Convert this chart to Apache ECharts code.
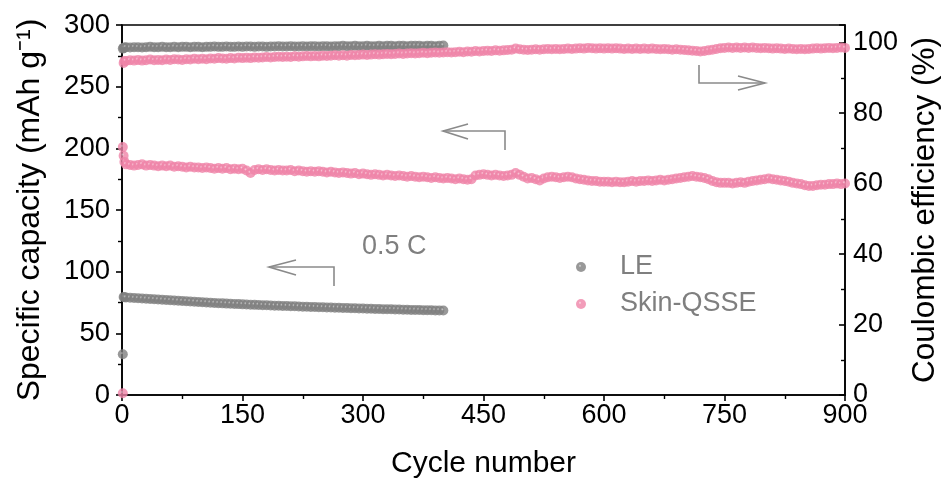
<!DOCTYPE html>
<html>
<head>
<meta charset="utf-8">
<script src="https://cdn.jsdelivr.net/npm/echarts@6/dist/echarts.min.js"></script>
<style>
html,body{margin:0;padding:0;background:#fff;}
#chart{width:944px;height:485px;}
</style>
</head>
<body>
<div id="chart"></div>
<script>
// ---------- DATA ----------
const xTicks = [0, 150, 300, 450, 600, 750, 900];
const leftTicks = [0, 50, 100, 150, 200, 250, 300];
const rightTicks = [0, 20, 40, 60, 80, 100];

// LE (liquid electrolyte): first cycles listed explicitly, then every 5th cycle
const leEarlyCycles = [1, 2, 3];
const leCapEarly = [33, 79.5, 79.2];
const leCeEarly = [98.3, 98.5, 98.6];
const leStart = 5, leStep = 5;
const leCap = [
  79.0, 78.8, 78.6, 78.4, 78.2, 78.0, 77.8, 77.6, 77.4, 77.2,
  77.0, 76.8, 76.6, 76.4, 76.2, 76.0, 75.8, 75.6, 75.4, 75.2,
  75.0, 74.8, 74.6, 74.4, 74.3, 74.1, 74.0, 73.8, 73.7, 73.5,
  73.4, 73.2, 73.1, 73.0, 72.8, 72.7, 72.6, 72.4, 72.3, 72.2,
  72.1, 72.0, 71.9, 71.8, 71.6, 71.5, 71.4, 71.3, 71.2, 71.1,
  71.0, 70.9, 70.8, 70.7, 70.6, 70.5, 70.4, 70.3, 70.2, 70.1,
  70.0, 69.9, 69.8, 69.7, 69.6, 69.5, 69.5, 69.4, 69.3, 69.2,
  69.1, 69.0, 69.0, 68.9, 68.8, 68.8, 68.7, 68.6, 68.6, 68.5
];
const leCe = [
  98.7, 98.6, 98.7, 98.7, 98.6, 98.7, 98.8, 98.7, 98.7, 98.8,
  98.7, 98.7, 98.8, 98.7, 98.8, 98.8, 98.7, 98.8, 98.8, 98.7,
  98.8, 98.8, 98.9, 98.8, 98.8, 98.9, 98.8, 98.8, 98.9, 98.8,
  98.9, 98.9, 98.8, 98.9, 98.9, 98.8, 98.9, 98.9, 99.0, 98.9,
  98.9, 99.0, 98.9, 98.9, 99.0, 98.9, 99.0, 99.0, 98.9, 99.0,
  99.0, 98.9, 99.0, 99.0, 99.1, 99.0, 99.0, 99.1, 99.0, 99.0,
  99.1, 99.0, 99.0, 99.1, 99.0, 99.1, 99.1, 99.0, 99.1, 99.1,
  99.0, 99.1, 99.1, 99.1, 99.0, 99.1, 99.1, 99.0, 99.1, 99.2
];

// Skin-QSSE: first cycles listed explicitly, then every 5th cycle
const skinEarlyCycles = [1, 2, 3];
const skinCapEarly = [201, 194, 189];
const skinCeEarly = [0.5, 94.2, 94.8];
const skinStart = 5, skinStep = 5;
const skinCap = [
  187, 186.5, 186, 186.5, 187, 186, 186.5, 186, 185.5, 186,
  185.5, 186, 185, 185.5, 185, 184.5, 185, 184.5, 184.5, 184,
  184.5, 184, 183.5, 184, 183.5, 184, 183, 183.5, 183, 183.5,
  182, 180, 182.5, 183, 182.5, 183, 182.5, 182, 182.5, 182,
  182, 182.5, 181.5, 182, 181.5, 181, 181.5, 181, 181.5, 181,
  180.5, 181, 180.5, 180, 180.5, 180, 179.5, 180, 179, 179.5,
  179, 178.5, 179, 178.5, 178, 178.5, 178, 177.5, 178, 177.5,
  177, 177.5, 177, 176.5, 177, 176.5, 176, 176.5, 176, 175.5,
  176, 175.5, 175, 175.5, 175, 174.5, 175, 178, 178.5, 179,
  178.5, 178, 178.5, 178, 177.5, 178, 178.5, 180, 178.5, 177,
  175.5, 176, 175, 174, 175.5, 176.5, 177, 176.5, 176, 176.5,
  177, 176.5, 175.5, 175, 174.5, 174, 173.5, 173.5, 173, 173,
  173, 172.5, 173, 172.5, 172.5, 173, 173.5, 173, 173.5, 173.5,
  174, 173.5, 174, 174.5, 174, 174.5, 175, 175.5, 176, 176.5,
  177, 177.5, 177, 176.5, 176, 175, 173.5, 172.5, 172, 172,
  172, 171.5, 172, 172.5, 172, 173, 173.5, 174, 174.5, 175,
  175.5, 175, 174.5, 174, 173.5, 173, 172, 171.5, 171, 170,
  169.5, 169.5, 170, 170.5, 170.5, 171, 171, 171.5, 171, 171.5
];
const skinCe = [
  94.8, 95.0, 94.9, 95.1, 94.9, 95.0, 95.2, 95.0, 95.1, 95.0,
  95.2, 95.1, 95.3, 95.2, 95.1, 95.3, 95.2, 95.4, 95.3, 95.4,
  95.3, 95.5, 95.4, 95.6, 95.5, 95.4, 95.6, 95.5, 95.7, 95.6,
  95.7, 95.6, 95.8, 95.7, 95.8, 95.9, 95.8, 95.9, 96.0, 95.9,
  96.0, 95.9, 96.1, 96.0, 96.1, 96.2, 96.1, 96.2, 96.1, 96.3,
  96.2, 96.3, 96.4, 96.3, 96.4, 96.3, 96.5, 96.4, 96.5, 96.6,
  96.5, 96.6, 96.7, 96.6, 96.7, 96.8, 96.7, 96.8, 96.9, 96.8,
  96.9, 97.0, 96.9, 97.0, 97.1, 97.0, 97.1, 97.2, 97.1, 97.2,
  97.3, 97.2, 97.3, 97.4, 97.3, 97.5, 97.4, 97.6, 97.5, 97.6,
  97.7, 97.6, 97.8, 97.7, 97.8, 97.9, 98.0, 98.3, 98.1, 98.0,
  97.9, 98.0, 98.1, 98.0, 98.1, 98.2, 98.1, 98.2, 98.1, 98.2,
  98.3, 98.2, 98.3, 98.4, 98.3, 98.5, 98.4, 98.3, 98.4, 98.3,
  98.4, 98.3, 98.4, 98.3, 98.2, 98.3, 98.2, 98.3, 98.2, 98.3,
  98.2, 98.3, 98.2, 98.1, 98.2, 98.1, 98.0, 98.1, 98.0, 97.9,
  97.8, 97.7, 97.6, 97.5, 97.6, 97.8, 98.0, 98.2, 98.4, 98.5,
  98.6, 98.5, 98.6, 98.5, 98.6, 98.5, 98.6, 98.5, 98.4, 98.5,
  98.4, 98.3, 98.4, 98.3, 98.2, 98.3, 98.2, 98.1, 98.2, 98.1,
  98.2, 98.3, 98.4, 98.3, 98.4, 98.5, 98.4, 98.5, 98.6, 98.5
];

// ---------- BUILD ----------
function pairs(earlyX, earlyY, start, step, vals) {
  const out = earlyX.map((c, i) => [c, earlyY[i]]);
  vals.forEach((v, i) => out.push([start + i * step, v]));
  return out;
}
const GREY = '#7f7f7f';
const PINK = '#ef84a8';
const FONT = 'Liberation Sans, Arial, sans-serif';
function sphere(c, hi) {
  return {
    type: 'radial', x: 0.4, y: 0.38, r: 0.7,
    colorStops: [
      { offset: 0, color: hi },
      { offset: 0.22, color: c },
      { offset: 1, color: c }
    ]
  };
}
function scatter(name, data, yIdx, color, hi, z) {
  return {
    name: name, type: 'scatter', yAxisIndex: yIdx, data: data,
    symbol: 'circle', symbolSize: 10, clip: false, z: z,
    itemStyle: { color: sphere(color, hi), borderWidth: 0 },
    emphasis: { disabled: true }, animation: false
  };
}

const chart = echarts.init(document.getElementById('chart'), null, { renderer: 'canvas' });
const axisLineStyle = { color: '#000', width: 1.6 };
const option = {
  animation: false,
  textStyle: { fontFamily: FONT },
  grid: { left: 122, right: 99, top: 25, bottom: 90, containLabel: false, outerBoundsMode: 'none',
    show: true, borderColor: '#000', borderWidth: 1.6, backgroundColor: 'transparent' },
  legend: {
    data: ['LE', 'Skin-QSSE'],
    orient: 'vertical', left: 571, top: 247,
    itemWidth: 10, itemHeight: 10, itemGap: 7,
    icon: 'circle',
    textStyle: { fontSize: 27, color: GREY, fontFamily: FONT, lineHeight: 30, padding: [0, 0, 0, 29] }
  },
  xAxis: {
    type: 'value', min: 0, max: 900, interval: 150,
    name: 'Cycle number', nameLocation: 'middle', nameGap: 54,
    nameTextStyle: { fontSize: 30, color: '#000', fontFamily: FONT },
    axisLine: { show: true, lineStyle: axisLineStyle },
    axisTick: { show: true, inside: false, length: 6, lineStyle: axisLineStyle },
    minorTick: { show: true, splitNumber: 2, length: 4, lineStyle: { color: '#000', width: 1.4 } },
    axisLabel: { fontSize: 27, color: '#000', margin: 7, fontFamily: FONT,
      formatter: v => xTicks.includes(v) ? String(v) : '' },
    splitLine: { show: false }
  },
  yAxis: [
    {
      type: 'value', min: 0, max: 300, interval: 50, position: 'left',
      name: 'Specific capacity (mAh g\u207B\u00B9)', nameLocation: 'middle', nameGap: 76, nameRotate: 90,
      nameTextStyle: { fontSize: 32, color: '#000', fontFamily: FONT },
      axisLine: { show: true, lineStyle: axisLineStyle },
      axisTick: { show: true, inside: false, length: 6, lineStyle: axisLineStyle },
      minorTick: { show: true, splitNumber: 2, length: 4, lineStyle: { color: '#000', width: 1.4 } },
      axisLabel: { fontSize: 27.5, color: '#000', margin: 12, fontFamily: FONT,
        formatter: v => leftTicks.includes(v) ? String(v) : '' },
      splitLine: { show: false }
    },
    {
      type: 'value', min: 0, max: 105, interval: 20, position: 'right',
      name: 'Coulombic efficiency (%)', nameLocation: 'middle', nameGap: 62, nameRotate: 90,
      nameTextStyle: { fontSize: 31.5, color: '#000', fontFamily: FONT },
      axisLine: { show: true, lineStyle: axisLineStyle },
      axisTick: { show: true, inside: true, length: 6, lineStyle: axisLineStyle },
      minorTick: { show: true, splitNumber: 2, length: 4, lineStyle: { color: '#000', width: 1.4 } },
      axisLabel: { fontSize: 27, color: '#000', margin: 8, fontFamily: FONT, showMaxLabel: false,
        formatter: v => rightTicks.includes(v) ? String(v) : '' },
      splitLine: { show: false }
    }
  ],
  series: [
    scatter('LE', pairs(leEarlyCycles, leCapEarly, leStart, leStep, leCap), 0, GREY, '#d8d8d8', 2),
    scatter('LE', pairs(leEarlyCycles, leCeEarly, leStart, leStep, leCe), 1, GREY, '#d8d8d8', 2),
    scatter('Skin-QSSE', pairs(skinEarlyCycles, skinCapEarly, skinStart, skinStep, skinCap), 0, PINK, '#fbdbe6', 3),
    scatter('Skin-QSSE', pairs(skinEarlyCycles, skinCeEarly, skinStart, skinStep, skinCe), 1, PINK, '#fbdbe6', 3)
  ],
  graphic: []
};

// annotation arrows (pure decoration)
const ARROW = { stroke: '#8a8a8a', lineWidth: 1.6, fill: null };
function poly(points) { return { type: 'polyline', shape: { points: points }, style: ARROW, silent: true, z: 10 }; }
option.graphic = [
  poly([[505, 150], [505, 131], [443, 131]]),
  poly([[468, 124], [443, 131], [468, 139]]),
  poly([[334, 286], [334, 267], [269, 267]]),
  poly([[296, 260], [269, 267], [296, 275]]),
  poly([[699, 65], [699, 83], [765, 83]]),
  poly([[738, 76], [765, 83], [738, 90]]),
  { type: 'text', left: 362, top: 233, silent: true, z: 10,
    style: { text: '0.5 C', fontSize: 27, fill: GREY, fontFamily: FONT } }
];

chart.setOption(option);
</script>
</body>
</html>
